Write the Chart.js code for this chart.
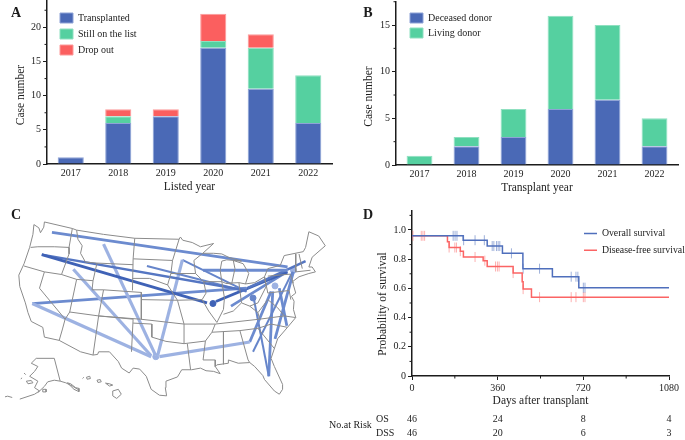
<!DOCTYPE html>
<html>
<head>
<meta charset="utf-8">
<title>Transplant cases</title>
<script src="https://cdn.jsdelivr.net/npm/chart.js@4/dist/chart.umd.min.js"></script>
<style>
html, body { margin: 0; padding: 0; background: #fff; overflow: hidden; }
#wrap { position: relative; width: 685px; height: 440px; }
canvas { position: absolute; left: 0; top: 0; }
</style>
</head>
<body>
<div id="wrap">
  <canvas id="chartA"></canvas>
  <canvas id="chartB"></canvas>
  <canvas id="chartC"></canvas>
  <canvas id="chartD"></canvas>
</div>
<script>
const listedYears = ['2017', '2018', '2019', '2020', '2021', '2022'];
const transplanted = [1, 6, 7, 17, 11, 6];
const stillOnList = [0, 1, 0, 1, 6, 7];
const dropOut = [0, 1, 1, 4, 2, 0];

const transplantYears = ['2017', '2018', '2019', '2020', '2021', '2022'];
const deceasedDonor = [0, 2, 3, 6, 7, 2];
const livingDonor = [1, 1, 3, 10, 8, 3];

// survival curves: value holds from that day until the next entry
const osDays = [0, 215, 316, 380, 466, 590, 701, 1080];
const osSurvival = [0.96, 0.93, 0.89, 0.84, 0.735, 0.68, 0.605, 0.605];
const dfsDays = [0, 149, 156, 203, 216, 299, 316, 425, 463, 467, 502, 1080];
const dfsSurvival = [0.96, 0.92, 0.88, 0.855, 0.815, 0.79, 0.75, 0.705, 0.645, 0.595, 0.54, 0.54];
const osCensored = [173, 181, 189, 217, 265, 304, 337, 344, 355, 362, 369, 418, 467, 536, 669, 689, 697, 720, 727];
const dfsCensored = [4, 39, 46, 53, 156, 180, 187, 203, 265, 306, 351, 359, 366, 425, 467, 536, 669, 689, 720, 727];

const riskDays = [0, 360, 720, 1080];
const osAtRisk = [46, 24, 8, 4];
const dssAtRisk = [46, 20, 6, 3];

// map outlines (x, y on a 1035x705 grid)
const usOutline = [[88,60],[85,90],[75,130],[58,180],[42,215],[45,250],[62,300],[70,330],[80,357],[115,375],[120,405],[165,415],[230,450],[268,460],[282,458],[285,450],[318,450],[345,480],[355,500],[378,515],[390,500],[410,503],[430,525],[445,565],[470,583],[492,585],[488,560],[490,540],[525,527],[538,505],[568,505],[595,500],[612,508],[635,510],[655,517],[640,495],[645,490],[680,485],[680,475],[710,485],[745,483],[760,495],[785,523],[790,535],[820,570],[835,580],[845,565],[845,550],[820,495],[810,470],[830,410],[860,375],[885,345],[878,320],[880,295],[872,280],[885,270],[875,235],[895,220],[925,210],[945,205],[935,190],[925,190],[935,160],[975,125],[955,95],[925,82],[915,130],[908,143],[850,155],[838,185],[800,195],[790,220],[760,238],[732,242],[742,210],[725,180],[695,170],[700,195],[690,242],[672,240],[660,235],[655,200],[660,172],[675,168],[720,172],[680,160],[660,150],[635,148],[602,148],[635,118],[595,128],[570,115],[541,108],[534,98],[530,105],[395,102],[300,90],[218,77],[205,72],[120,52],[118,68],[108,85],[103,70],[88,60]];
const stateLines = [
  [[78,130],[100,128],[150,128],[195,130]],
  [[205,72],[195,130],[195,150],[172,213]],
  [[218,77],[222,105],[235,125],[230,148],[245,175],[280,178],[390,183]],
  [[58,187],[120,205],[172,213],[218,228],[268,232],[265,260],[300,260],[415,268],[415,350]],
  [[280,178],[268,232]],
  [[395,102],[390,165],[388,262]],
  [[120,205],[105,255],[183,350],[175,380],[165,415]],
  [[218,228],[197,328],[183,350]],
  [[197,328],[285,340],[268,460]],
  [[300,260],[285,340],[390,350],[385,450]],
  [[285,340],[412,350],[545,365],[640,365]],
  [[390,362],[447,365],[447,405],[490,418],[545,425],[545,365],[525,292],[415,290]],
  [[390,165],[510,170],[530,105]],
  [[388,225],[440,225],[495,245],[505,210],[510,170]],
  [[495,245],[525,292],[600,290],[612,270],[605,235],[580,210],[505,210]],
  [[602,148],[575,170],[580,210]],
  [[605,235],[660,235]],
  [[660,235],[668,285],[665,320],[645,360],[620,325],[600,290]],
  [[672,240],[712,238],[720,300],[695,325],[665,335]],
  [[712,238],[732,242]],
  [[720,300],[745,310],[770,300],[795,250],[790,220]],
  [[745,310],[770,330],[775,350],[640,365],[630,390],[610,417],[603,475],[640,475],[640,495]],
  [[545,425],[610,417]],
  [[555,425],[565,505]],
  [[630,390],[665,388],[665,488]],
  [[665,388],[715,385],[740,475],[745,483]],
  [[715,385],[770,378],[820,440]],
  [[770,378],[810,365],[860,375]],
  [[775,350],[850,340],[885,345]],
  [[770,330],[800,290],[830,315],[850,340]],
  [[800,270],[865,262],[870,290]],
  [[790,220],[800,270]],
  [[800,218],[868,212],[878,240]],
  [[885,150],[885,205]],
  [[895,150],[905,195]],
  [[885,205],[930,200]]
];
const alaskaInland = [[95,470],[150,470],[168,540],[185,545],[205,555],[225,567]];
const alaskaCoast = [[95,470],[80,485],[100,495],[90,510],[75,525],[100,540],[90,560],[105,570],[90,580],[45,595]];
const alaskaCoast2 = [[100,575],[120,556],[130,542],[150,537],[168,540]];
const alaskaIslands = [
  [[65,540],[80,538],[85,545],[70,548],[65,540]],
  [[115,565],[125,565],[125,573],[115,573],[115,565]],
  [[190,545],[200,548],[215,560],[225,562],[225,572],[210,565],[190,545]],
  [[48,533],[52,530]],
  [[58,515],[63,520]]
];
const aleutians = [[0,588],[8,586],[22,590]];
const hawaiiIslands = [
  [[236,532],[240,528]],
  [[248,528],[258,525],[260,532],[250,534],[248,528]],
  [[280,537],[290,535],[293,542],[283,544],[280,537]],
  [[306,546],[318,548],[328,552],[318,555],[306,546]],
  [[328,570],[345,565],[354,580],[340,593],[328,585],[328,570]]
];

// routes between home state and transplant centre
const routeFromX = [143, 112, 112, 432, 300, 208, 83, 83, 540, 540, 603, 915, 860, 688, 745, 745, 755, 757, 803, 822, 858];
const routeFromY = [84, 152, 152, 187, 120, 197, 302, 302, 168, 168, 200, 172, 205, 310, 420, 420, 450, 285, 525, 410, 370];
const routeToX = [860, 615, 735, 735, 458, 445, 445, 735, 465, 735, 860, 738, 642, 858, 470, 810, 875, 803, 815, 878, 835];
const routeToY = [190, 300, 262, 265, 460, 462, 465, 255, 460, 265, 200, 255, 296, 205, 465, 265, 205, 525, 265, 205, 255];
const routeCases = [2, 5, 4, 3, 1, 1, 1, 2, 1, 3, 2, 4, 5, 2, 1, 2, 3, 3, 2, 2, 2];
const hubX = [459, 633, 822, 878, 755];
const hubY = [465, 302, 248, 200, 285];
const hubCases = [1, 5, 1, 1, 3];

const blue = '#4A69B6';
const green = '#55D0A0';
const red = '#FB5F5F';
const ink = '#1c1c1c';
const serif = "'Liberation Serif', serif";

Chart.defaults.font.family = serif;
Chart.defaults.font.size = 10;
Chart.defaults.color = ink;
Chart.defaults.animation = false;
Chart.defaults.responsive = false;

// extra ticks between the labelled ones
const minorTicks = {
  id: 'minorTicks',
  afterDraw(chart, args, opts) {
    const ctx = chart.ctx;
    ctx.save();
    ctx.strokeStyle = ink;
    ctx.lineWidth = 1;
    (opts.list || []).forEach(function (m) {
      const scale = chart.scales[m.axis];
      m.values.forEach(function (v) {
        const p = scale.getPixelForValue(v);
        ctx.beginPath();
        if (m.axis === 'y') {
          ctx.moveTo(scale.right, p);
          ctx.lineTo(scale.right - 2.5, p);
        } else {
          ctx.moveTo(p, scale.top);
          ctx.lineTo(p, scale.top + 2.5);
        }
        ctx.stroke();
      });
    });
    ctx.restore();
  }
};

// loose text: panel letters, y titles, risk table
const looseText = {
  id: 'looseText',
  afterDraw(chart, args, opts) {
    const ctx = chart.ctx;
    (opts.items || []).forEach(function (t) {
      const x = t.day !== undefined ? chart.scales.x.getPixelForValue(t.day) : t.x;
      ctx.save();
      ctx.fillStyle = ink;
      ctx.font = t.font || ('10px ' + serif);
      ctx.textAlign = t.align || 'center';
      ctx.textBaseline = 'middle';
      ctx.translate(x, t.y);
      if (t.rotate) ctx.rotate(t.rotate);
      ctx.fillText(t.text, 0, 0);
      ctx.restore();
    });
  }
};

// moves the legend inside the plot to a given spot
const legendSpot = {
  id: 'legendSpot',
  afterLayout(chart, args, opts) {
    if (opts.x === undefined) return;
    const legend = chart.legend;
    const pad = legend.options.labels.padding;
    const w = legend.right - legend.left;
    legend.left = opts.x - pad;
    legend.right = legend.left + w;
    legend.top = opts.y - pad;
    legend.bottom = 440;
  }
};
Chart.register(minorTicks, looseText, legendSpot);

function sizeCanvas(id) {
  const c = document.getElementById(id);
  c.width = 685;
  c.height = 440;
  return c;
}

function fixY(width) {
  return function (s) { s.width = width; s.paddingTop = 0; s.paddingBottom = 0; };
}
function fixX(height) {
  return function (s) { s.height = height; s.paddingLeft = 0; s.paddingRight = 0; };
}

function legendLabels(gap, extra) {
  return Object.assign({ boxWidth: 13, boxHeight: 10, padding: gap, font: { size: 10 }, color: ink }, extra || {});
}

function barSet(label, values, color, edge) {
  return { label: label, data: values, backgroundColor: color, borderColor: edge, borderWidth: 1, categoryPercentage: 1, barPercentage: 0.55 };
}

function stackedBars(id, cats, sets, area, yMax, xTitle, yTitle, letter, legendPos, gap, minors) {
  return new Chart(sizeCanvas(id), {
    type: 'bar',
    data: { labels: cats, datasets: sets },
    options: {
      layout: { padding: { left: 0, top: area.top, right: 685 - area.right, bottom: 440 - area.bottom - 30 } },
      scales: {
        x: {
          stacked: true,
          grid: { display: false, tickLength: 0, drawTicks: false },
          border: { color: ink, width: 1.5 },
          ticks: { padding: 3, maxRotation: 0, font: { size: 10 } },
          title: { display: true, text: xTitle, font: { size: 11.5 }, padding: 0 },
          afterFit: fixX(30)
        },
        y: {
          stacked: true,
          min: 0,
          max: yMax,
          border: { color: ink, width: 1.5 },
          grid: { drawOnChartArea: false, tickLength: 4, tickColor: ink, tickWidth: 1 },
          ticks: { stepSize: 5, includeBounds: false, padding: 2, font: { size: 10 } },
          afterFit: fixY(area.left)
        }
      },
      plugins: {
        tooltip: { enabled: false },
        legend: { position: 'chartArea', align: 'start', labels: legendLabels(gap) },
        legendSpot: legendPos,
        minorTicks: { list: [{ axis: 'y', values: minors }] },
        looseText: { items: [
          { text: yTitle, x: area.titleX, y: area.titleY, rotate: -Math.PI / 2, font: '11.5px ' + serif },
          { text: letter.text, x: letter.x, y: letter.y, font: 'bold 14px ' + serif }
        ] }
      }
    }
  });
}

stackedBars('chartA', listedYears, [
  barSet('Transplanted', transplanted, blue, '#8EA3D6'),
  barSet('Still on the list', stillOnList, green, '#8FE0C0'),
  barSet('Drop out', dropOut, red, '#FC9A9A')
], { left: 47, right: 332, top: 0, bottom: 164, titleX: 20.5, titleY: 95 }, 24, 'Listed year', 'Case number',
  { text: 'A', x: 16, y: 13 }, { x: 60, y: 13 }, 6, [2.5, 7.5, 12.5, 17.5, 22.5]);

stackedBars('chartB', transplantYears, [
  barSet('Deceased donor', deceasedDonor, blue, '#8EA3D6'),
  barSet('Living donor', livingDonor, green, '#8FE0C0')
], { left: 396, right: 678, top: 2, bottom: 165, titleX: 369, titleY: 96.5 }, 17.47, 'Transplant year', 'Case number',
  { text: 'B', x: 368, y: 13 }, { x: 410, y: 13 }, 5, [2.5, 7.5, 12.5, 17.5]);

// panel C
function toPoints(list) {
  return list.map(function (p) { return { x: p[0], y: p[1] }; });
}
function outlineSet(list) {
  return { data: toPoints(list), showLine: true, pointRadius: 0, borderColor: '#8b8b8b', borderWidth: 1, tension: 0 };
}
const routeStyle = {
  1: { color: '#9DB2E2', core: '#E6ECF8', width: 3.2 },
  2: { color: '#6C8BCF', core: '#B8C8EA', width: 2.8 },
  3: { color: '#6685CA', width: 2 },
  4: { color: '#5576C2', width: 2.4 },
  5: { color: '#3F62B6', width: 2.8 }
};
const mapSets = [usOutline].concat(stateLines, [alaskaInland, alaskaCoast, alaskaCoast2, aleutians], alaskaIslands, hawaiiIslands).map(outlineSet);
routeCases.forEach(function (n, i) {
  const line = [{ x: routeFromX[i], y: routeFromY[i] }, { x: routeToX[i], y: routeToY[i] }];
  const st = routeStyle[n];
  mapSets.push({ data: line, showLine: true, pointRadius: 0, borderColor: st.color, borderWidth: st.width, borderCapStyle: 'butt' });
  if (st.core) {
    mapSets.push({ data: line, showLine: true, pointRadius: 0, borderColor: st.core, borderWidth: st.width * 0.45, borderCapStyle: 'butt' });
  }
});
hubCases.forEach(function (n, i) {
  mapSets.push({ data: [{ x: hubX[i], y: hubY[i] }], pointRadius: 3, pointBackgroundColor: routeStyle[n].color, pointBorderColor: routeStyle[n].color });
});

new Chart(sizeCanvas('chartC'), {
  type: 'scatter',
  data: { datasets: mapSets },
  options: {
    layout: { padding: { left: 0, top: 205, right: 340, bottom: 0 } },
    scales: {
      x: { type: 'linear', display: false, min: 0, max: 1035 },
      y: { type: 'linear', display: false, min: 0, max: 705, reverse: true }
    },
    plugins: {
      tooltip: { enabled: false },
      legend: { display: false },
      looseText: { items: [{ text: 'C', x: 16, y: 215, font: 'bold 14px ' + serif }] }
    }
  }
});

// panel D
function curve(days, values) {
  return days.map(function (d, i) { return { x: d, y: values[i] }; });
}
function valueAt(days, values, day) {
  let v = values[0];
  days.forEach(function (d, i) { if (d <= day) v = values[i]; });
  return v;
}
function censorSet(list, days, values, color) {
  return {
    label: 'censored',
    data: list.map(function (d) { return { x: d, y: valueAt(days, values, d) }; }),
    pointStyle: 'line',
    rotation: 90,
    pointRadius: 5,
    pointBorderColor: color,
    pointBorderWidth: 1,
    showLine: false
  };
}
function stepSet(label, days, values, color) {
  return { label: label, data: curve(days, values), showLine: true, stepped: 'before', pointRadius: 0, borderColor: color, backgroundColor: color, borderWidth: 1.5, pointStyle: 'line' };
}

const tableItems = [
  { text: 'No.at Risk', x: 329, y: 425, align: 'left' },
  { text: 'OS', x: 376, y: 419, align: 'left' },
  { text: 'DSS', x: 376, y: 433.5, align: 'left' },
  { text: 'Probability of survival', x: 382.5, y: 304, rotate: -Math.PI / 2, font: '11.5px ' + serif },
  { text: 'D', x: 368, y: 215, font: 'bold 14px ' + serif }
];
riskDays.forEach(function (d, i) {
  tableItems.push({ text: String(osAtRisk[i]), day: d, y: 419 });
  tableItems.push({ text: String(dssAtRisk[i]), day: d, y: 433.5 });
});

new Chart(sizeCanvas('chartD'), {
  type: 'scatter',
  data: {
    datasets: [
      stepSet('Overall survival', osDays, osSurvival, '#4F6FBC'),
      stepSet('Disease-free survival', dfsDays, dfsSurvival, '#FB6464'),
      censorSet(osCensored, osDays, osSurvival, 'rgba(79,111,188,0.55)'),
      censorSet(dfsCensored, dfsDays, dfsSurvival, 'rgba(251,100,100,0.5)')
    ]
  },
  options: {
    layout: { padding: { left: 0, top: 211, right: 16, bottom: 32 } },
    scales: {
      x: {
        type: 'linear',
        min: 0,
        max: 1080,
        border: { color: ink, width: 1.5 },
        grid: { drawOnChartArea: false, tickLength: 4, tickColor: ink, tickWidth: 1 },
        ticks: {
          stepSize: 360,
          padding: 2,
          maxRotation: 0,
          font: { size: 10 },
          callback: function (v) { return String(v); }
        },
        title: { display: true, text: 'Days after transplant', font: { size: 11.5 }, padding: 0 },
        afterFit: fixX(32)
      },
      y: {
        type: 'linear',
        min: 0,
        max: 1.13,
        border: { color: ink, width: 1.5 },
        grid: { drawOnChartArea: false, tickLength: 4, tickColor: ink, tickWidth: 1 },
        ticks: {
          stepSize: 0.2,
          includeBounds: false,
          padding: 2,
          font: { size: 10 },
          callback: function (v) { return v === 0 ? '0' : Number(v).toFixed(1); }
        },
        afterFit: fixY(412)
      }
    },
    plugins: {
      tooltip: { enabled: false },
      legend: {
        position: 'chartArea',
        align: 'start',
        labels: legendLabels(7, {
          usePointStyle: true,
          pointStyle: 'line',
          pointStyleWidth: 13,
          font: { size: 9.8 },
          filter: function (item) { return item.text !== 'censored'; }
        })
      },
      legendSpot: { x: 584, y: 228.5 },
      minorTicks: { list: [
        { axis: 'y', values: [0.1, 0.3, 0.5, 0.7, 0.9, 1.1] },
        { axis: 'x', values: [180, 540, 900] }
      ] },
      looseText: { items: tableItems }
    }
  }
});
</script>
</body>
</html>
